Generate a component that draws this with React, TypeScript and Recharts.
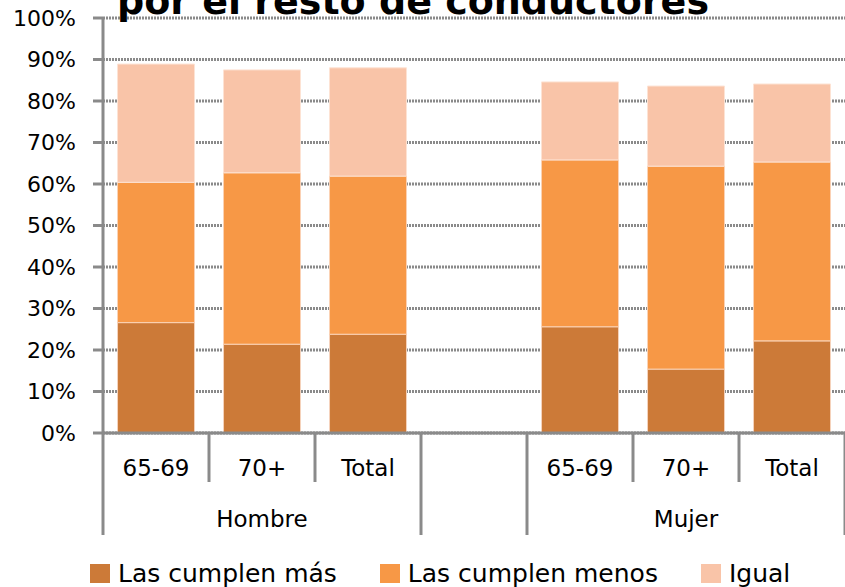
import { BarChart, Bar, XAxis, YAxis, CartesianGrid, Legend } from "recharts";

const categories = ["65-69", "70+", "Total", "", "65-69", "70+", "Total"];
const groups = ["Hombre", "Hombre", "Hombre", "", "Mujer", "Mujer", "Mujer"];
const cumplenMas = [26.6, 21.4, 23.8, null, 25.6, 15.4, 22.2];
const cumplenMenos = [33.8, 41.3, 38.1, null, 40.2, 48.9, 43.1];
const igual = [28.5, 24.8, 26.1, null, 18.8, 19.3, 18.8];
const seriesNames = ["Las cumplen más", "Las cumplen menos", "Igual"];
const yTicks = [0, 10, 20, 30, 40, 50, 60, 70, 80, 90, 100];

const data = categories.map((c, i) => ({
  key: `${groups[i] || "gap"}-${c || i}`,
  mas: cumplenMas[i],
  menos: cumplenMenos[i],
  igual: igual[i],
}));

const W = 845;
const H = 587;
const Y_W = 103;
const GRAY = "#8a8a8a";
const FONT = "'DejaVu Sans', sans-serif";
const step = (W - Y_W) / categories.length;

function CategoryTick(props: any) {
  const { x, y, index } = props;
  const half = step / 2;
  const left = x - half;
  const groupStart = index === 0 || groups[index] !== groups[index - 1];
  let end = index;
  while (end + 1 < groups.length && groups[end + 1] === groups[index]) end++;
  const isLast = index === categories.length - 1;
  return (
    <g>
      <line x1={left} x2={left} y1={y} y2={y + (groupStart ? 102 : 49)} stroke={GRAY} strokeWidth={3} />
      {isLast && (
        <line x1={x + half} x2={x + half} y1={y} y2={y + 102} stroke={GRAY} strokeWidth={3} />
      )}
      <text x={x} y={y + 43} textAnchor="middle" fontSize={23} fontFamily={FONT} fill="#000">
        {categories[index]}
      </text>
      {groupStart && groups[index] && (
        <text
          x={left + ((end - index + 1) * step) / 2}
          y={y + 94}
          textAnchor="middle"
          fontSize={23}
          fontFamily={FONT}
          fill="#000"
        >
          {groups[index]}
        </text>
      )}
    </g>
  );
}

function LegendContent(props: any) {
  const payload = [...(props.payload || [])].sort(
    (a: any, b: any) => seriesNames.indexOf(a.value) - seriesNames.indexOf(b.value)
  );
  return (
    <div style={{ display: "flex", gap: 43, alignItems: "center", fontFamily: FONT, fontSize: 25 }}>
      {payload.map((p: any) => (
        <div key={p.value} style={{ display: "flex", alignItems: "center", gap: 8 }}>
          <span style={{ width: 20, height: 19, background: p.color, display: "inline-block" }} />
          <span style={{ color: "#000", whiteSpace: "nowrap" }}>{p.value}</span>
        </div>
      ))}
    </div>
  );
}

export default function App() {
  return (
    <div style={{ position: "absolute", left: 0, top: 0, width: W, height: H, overflow: "hidden", background: "#fff" }}>
      <BarChart
        width={W}
        height={H}
        data={data}
        margin={{ top: 18, right: 0, left: 0, bottom: 54 }}
        barCategoryGap="13.7%"
      >
        <CartesianGrid vertical={false} stroke={GRAY} strokeWidth={3} strokeDasharray="2 1" />
        <XAxis
          dataKey="key"
          height={100}
          axisLine={{ stroke: GRAY, strokeWidth: 3 }}
          tickLine={false}
          tickSize={0}
          tickMargin={0}
          interval={0}
          tick={<CategoryTick />}
        />
        <YAxis
          width={Y_W}
          domain={[0, 100]}
          ticks={yTicks}
          tickFormatter={(v: number) => `${v}%`}
          axisLine={{ stroke: GRAY, strokeWidth: 3 }}
          tickLine={{ stroke: GRAY, strokeWidth: 3 }}
          tickSize={10}
          tickMargin={17}
          tick={{ fontSize: 22, fontFamily: FONT, fill: "#000" }}
        />
        <Legend
          layout="vertical"
          verticalAlign="middle"
          align="center"
          wrapperStyle={{ left: 90, top: 559, width: 760 }}
          content={<LegendContent />}
        />
        <Bar dataKey="mas" name={seriesNames[0]} stackId="a" fill="#cc7a38" stroke="#f5d3bc" strokeWidth={1} isAnimationActive={false} />
        <Bar dataKey="menos" name={seriesNames[1]} stackId="a" fill="#f79846" stroke="#fbd2b4" strokeWidth={1} isAnimationActive={false} />
        <Bar dataKey="igual" name={seriesNames[2]} stackId="a" fill="#f9c4a8" stroke="#fde3d4" strokeWidth={1} isAnimationActive={false} />
      </BarChart>
      <div
        style={{
          position: "absolute",
          left: 117,
          top: -18,
          fontFamily: FONT,
          fontWeight: "bold",
          fontSize: 38,
          lineHeight: 1,
          whiteSpace: "nowrap",
          color: "#000",
        }}
      >
        por el resto de conductores
      </div>
    </div>
  );
}
